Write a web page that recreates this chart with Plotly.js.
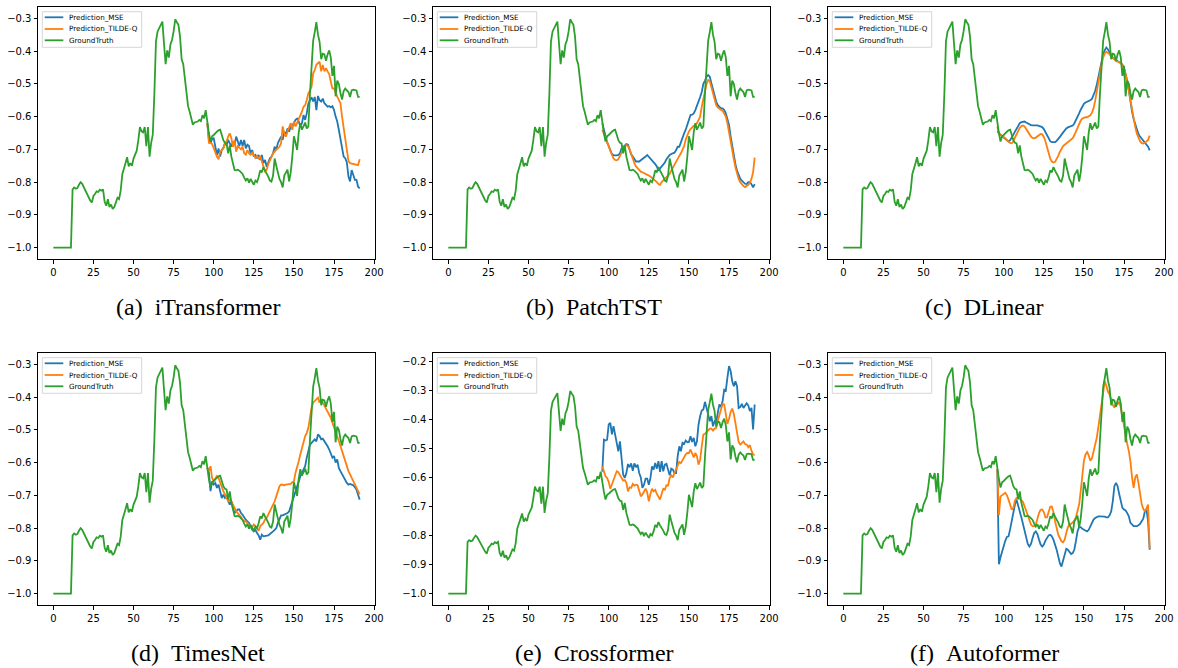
<!DOCTYPE html>
<html>
<head>
<meta charset="utf-8">
<script src="https://cdn.plot.ly/plotly-3.0.1.min.js"></script>
<style>
  html, body { margin: 0; padding: 0; background: #fff; }
  #chart { width: 1178px; height: 668px; }
</style>
</head>
<body>
<div id="chart"></div>
<script>
// Time-step indices: 96-step input window followed by a 96-step forecast horizon
const steps = Array.from({length: 192}, (_, i) => i);
const horizon = steps.slice(96);

const seriesNames = ['Prediction_MSE', 'Prediction_TILDE-Q', 'GroundTruth'];
const xTickVals = [0, 25, 50, 75, 100, 125, 150, 175, 200];

const groundTruth = [
  -1, -1, -1, -1, -1, -1, -1, -1, -1, -1,
  -1, -1, -0.822, -0.816, -0.82, -0.818, -0.808, -0.8, -0.805, -0.815,
  -0.83, -0.84, -0.85, -0.856, -0.862, -0.842, -0.836, -0.828, -0.83, -0.823,
  -0.826, -0.822, -0.86, -0.872, -0.852, -0.876, -0.868, -0.882, -0.876, -0.858,
  -0.848, -0.852, -0.826, -0.776, -0.755, -0.742, -0.724, -0.752, -0.742, -0.75,
  -0.728, -0.718, -0.704, -0.672, -0.632, -0.645, -0.648, -0.632, -0.69, -0.632,
  -0.722, -0.68, -0.655, -0.53, -0.37, -0.34, -0.328, -0.32, -0.31, -0.376,
  -0.44, -0.398, -0.42, -0.38, -0.366, -0.34, -0.303, -0.312, -0.32, -0.356,
  -0.425, -0.44, -0.488, -0.52, -0.568, -0.585, -0.604, -0.625, -0.618, -0.616,
  -0.615, -0.61, -0.614, -0.596, -0.605, -0.58, -0.62, -0.65, -0.676, -0.66,
  -0.656, -0.65, -0.646, -0.642, -0.64, -0.655, -0.672, -0.68, -0.682, -0.712,
  -0.688, -0.722, -0.745, -0.763, -0.764, -0.762, -0.765, -0.77, -0.775, -0.786,
  -0.795, -0.788, -0.802, -0.79, -0.8, -0.808, -0.795, -0.8, -0.785, -0.764,
  -0.77, -0.754, -0.765, -0.773, -0.783, -0.795, -0.798, -0.78, -0.728, -0.75,
  -0.772, -0.79, -0.8, -0.816, -0.78, -0.768, -0.762, -0.798, -0.77, -0.722,
  -0.66, -0.68, -0.702, -0.648, -0.62, -0.64, -0.63, -0.618, -0.636, -0.63,
  -0.53, -0.448, -0.368, -0.342, -0.312, -0.35, -0.372, -0.425, -0.408, -0.41,
  -0.43, -0.41, -0.398, -0.42, -0.476, -0.445, -0.538, -0.49, -0.5, -0.528,
  -0.548, -0.522, -0.514, -0.52, -0.525, -0.54, -0.52, -0.518, -0.518, -0.52,
  -0.54, -0.54
];

// Forecasts over steps 96..191
const itransformerMse = [
  -0.62, -0.67, -0.682, -0.668, -0.666, -0.692, -0.717, -0.697, -0.722, -0.702,
  -0.695, -0.681, -0.687, -0.671, -0.681, -0.692, -0.676, -0.686, -0.661, -0.676,
  -0.69, -0.671, -0.69, -0.671, -0.697, -0.686, -0.69, -0.712, -0.702, -0.722,
  -0.717, -0.727, -0.717, -0.732, -0.717, -0.742, -0.732, -0.753, -0.742, -0.727,
  -0.722, -0.712, -0.692, -0.702, -0.681, -0.671, -0.661, -0.671, -0.646, -0.656,
  -0.636, -0.646, -0.63, -0.626, -0.62, -0.61, -0.606, -0.615, -0.63, -0.62,
  -0.595, -0.61, -0.59, -0.56, -0.549, -0.541, -0.554, -0.54, -0.58, -0.537,
  -0.55, -0.554, -0.545, -0.559, -0.564, -0.57, -0.568, -0.572, -0.568, -0.58,
  -0.6, -0.615, -0.64, -0.67, -0.705, -0.722, -0.727, -0.74, -0.783, -0.798,
  -0.763, -0.778, -0.793, -0.793, -0.814, -0.819
];
const itransformerTildeQ = [
  -0.62, -0.68, -0.68, -0.684, -0.696, -0.71, -0.722, -0.73, -0.708, -0.702,
  -0.698, -0.681, -0.676, -0.661, -0.651, -0.666, -0.692, -0.672, -0.707, -0.69,
  -0.695, -0.7, -0.692, -0.712, -0.716, -0.702, -0.712, -0.716, -0.71, -0.72,
  -0.726, -0.72, -0.73, -0.72, -0.74, -0.752, -0.767, -0.762, -0.745, -0.732,
  -0.722, -0.712, -0.707, -0.7, -0.697, -0.692, -0.681, -0.63, -0.651, -0.661,
  -0.646, -0.63, -0.62, -0.64, -0.615, -0.63, -0.62, -0.605, -0.6, -0.585,
  -0.57, -0.565, -0.549, -0.529, -0.52, -0.509, -0.468, -0.458, -0.442, -0.437,
  -0.432, -0.462, -0.442, -0.462, -0.452, -0.462, -0.47, -0.493, -0.514, -0.514,
  -0.53, -0.539, -0.549, -0.559, -0.6, -0.635, -0.671, -0.705, -0.735, -0.742,
  -0.743, -0.743, -0.745, -0.745, -0.748, -0.73
];

const patchtstMse = [
  -0.62, -0.641, -0.665, -0.678, -0.69, -0.705, -0.714, -0.718, -0.719, -0.718,
  -0.717, -0.712, -0.697, -0.692, -0.687, -0.684, -0.686, -0.7, -0.715, -0.722,
  -0.73, -0.737, -0.737, -0.737, -0.733, -0.73, -0.727, -0.722, -0.717, -0.722,
  -0.73, -0.735, -0.74, -0.745, -0.752, -0.765, -0.758, -0.752, -0.745, -0.74,
  -0.73, -0.722, -0.717, -0.714, -0.712, -0.71, -0.702, -0.692, -0.692, -0.676,
  -0.664, -0.651, -0.64, -0.625, -0.61, -0.595, -0.594, -0.59, -0.58, -0.568,
  -0.553, -0.54, -0.525, -0.5, -0.49, -0.478, -0.473, -0.478, -0.498, -0.519,
  -0.539, -0.554, -0.565, -0.57, -0.575, -0.575, -0.58, -0.59, -0.605, -0.625,
  -0.66, -0.69, -0.72, -0.745, -0.765, -0.778, -0.79, -0.795, -0.8, -0.805,
  -0.806, -0.8, -0.8, -0.806, -0.816, -0.806
];
const patchtstTildeQ = [
  -0.64, -0.652, -0.66, -0.672, -0.69, -0.705, -0.718, -0.728, -0.732, -0.733,
  -0.73, -0.722, -0.71, -0.698, -0.69, -0.687, -0.69, -0.7, -0.715, -0.73,
  -0.742, -0.752, -0.758, -0.762, -0.768, -0.77, -0.772, -0.774, -0.777, -0.78,
  -0.783, -0.787, -0.79, -0.795, -0.8, -0.806, -0.808, -0.8, -0.795, -0.79,
  -0.785, -0.78, -0.775, -0.765, -0.755, -0.748, -0.74, -0.73, -0.72, -0.712,
  -0.7, -0.69, -0.67, -0.655, -0.645, -0.638, -0.632, -0.628, -0.626, -0.62,
  -0.61, -0.6, -0.57, -0.545, -0.52, -0.5, -0.488, -0.492, -0.51, -0.53,
  -0.55, -0.565, -0.572, -0.577, -0.58, -0.582, -0.59, -0.6, -0.62, -0.65,
  -0.68, -0.705, -0.73, -0.755, -0.775, -0.79, -0.8, -0.808, -0.812, -0.815,
  -0.812, -0.808, -0.802, -0.79, -0.77, -0.725
];

const dlinearMse = [
  -0.645, -0.651, -0.655, -0.66, -0.664, -0.668, -0.673, -0.676, -0.672, -0.665,
  -0.655, -0.646, -0.636, -0.626, -0.62, -0.617, -0.615, -0.615, -0.618, -0.621,
  -0.624, -0.626, -0.627, -0.628, -0.627, -0.627, -0.628, -0.629, -0.632, -0.638,
  -0.648, -0.658, -0.668, -0.675, -0.678, -0.679, -0.678, -0.674, -0.669, -0.662,
  -0.655, -0.648, -0.641, -0.636, -0.633, -0.631, -0.63, -0.627, -0.621, -0.612,
  -0.602, -0.59, -0.579, -0.568, -0.561, -0.557, -0.555, -0.553, -0.55, -0.546,
  -0.536, -0.522, -0.503, -0.48, -0.455, -0.428, -0.41, -0.397, -0.389, -0.395,
  -0.405, -0.415, -0.42, -0.424, -0.428, -0.431, -0.434, -0.436, -0.442, -0.452,
  -0.468, -0.49, -0.52, -0.555, -0.585, -0.607, -0.625, -0.642, -0.653, -0.661,
  -0.667, -0.672, -0.677, -0.684, -0.692, -0.703
];
const dlinearTildeQ = [
  -0.63, -0.652, -0.655, -0.658, -0.661, -0.666, -0.672, -0.677, -0.68, -0.681,
  -0.676, -0.664, -0.652, -0.641, -0.634, -0.629, -0.627, -0.63, -0.638, -0.646,
  -0.654, -0.661, -0.665, -0.666, -0.664, -0.66, -0.655, -0.653, -0.654, -0.662,
  -0.675, -0.695, -0.714, -0.728, -0.737, -0.74, -0.738, -0.73, -0.72, -0.708,
  -0.697, -0.69, -0.686, -0.682, -0.677, -0.674, -0.671, -0.666, -0.657, -0.645,
  -0.632, -0.62, -0.612, -0.606, -0.603, -0.602, -0.602, -0.6, -0.596, -0.588,
  -0.575, -0.552, -0.522, -0.49, -0.46, -0.44, -0.42, -0.407, -0.402, -0.405,
  -0.41, -0.417, -0.422, -0.426, -0.43, -0.432, -0.434, -0.437, -0.443, -0.452,
  -0.47, -0.493, -0.52, -0.55, -0.58, -0.608, -0.632, -0.652, -0.665, -0.675,
  -0.681, -0.682, -0.68, -0.676, -0.671, -0.658
];

const timesnetMse = [
  -0.616, -0.631, -0.687, -0.657, -0.667, -0.662, -0.677, -0.667, -0.687, -0.708,
  -0.698, -0.708, -0.703, -0.713, -0.728, -0.718, -0.738, -0.754, -0.749, -0.743,
  -0.743, -0.754, -0.759, -0.769, -0.774, -0.779, -0.784, -0.794, -0.805, -0.81,
  -0.805, -0.815, -0.822, -0.835, -0.82, -0.825, -0.824, -0.824, -0.822, -0.818,
  -0.815, -0.81, -0.805, -0.8, -0.784, -0.769, -0.761, -0.761, -0.759, -0.757,
  -0.754, -0.749, -0.733, -0.718, -0.703, -0.687, -0.667, -0.652, -0.642, -0.631,
  -0.621, -0.611, -0.585, -0.56, -0.545, -0.54, -0.535, -0.529, -0.535, -0.514,
  -0.519, -0.529, -0.527, -0.534, -0.54, -0.55, -0.56, -0.57, -0.585, -0.58,
  -0.6, -0.59, -0.616, -0.626, -0.636, -0.646, -0.657, -0.662, -0.667, -0.665,
  -0.667, -0.669, -0.675, -0.682, -0.698, -0.713
];
const timesnetTildeQ = [
  -0.616, -0.626, -0.611, -0.647, -0.657, -0.647, -0.641, -0.647, -0.662, -0.677,
  -0.687, -0.697, -0.708, -0.718, -0.713, -0.718, -0.728, -0.74, -0.749, -0.754,
  -0.759, -0.765, -0.774, -0.779, -0.779, -0.784, -0.789, -0.797, -0.797, -0.789,
  -0.794, -0.8, -0.808, -0.794, -0.789, -0.784, -0.774, -0.769, -0.759, -0.749,
  -0.738, -0.728, -0.718, -0.703, -0.687, -0.672, -0.667, -0.669, -0.669, -0.667,
  -0.667, -0.665, -0.665, -0.66, -0.657, -0.631, -0.616, -0.596, -0.575, -0.555,
  -0.535, -0.519, -0.509, -0.494, -0.463, -0.432, -0.417, -0.412, -0.407, -0.402,
  -0.417, -0.407, -0.417, -0.427, -0.432, -0.442, -0.453, -0.463, -0.478, -0.494,
  -0.504, -0.519, -0.534, -0.549, -0.565, -0.585, -0.6, -0.616, -0.626, -0.636,
  -0.646, -0.657, -0.667, -0.677, -0.687, -0.697
];

const crossformerMse = [
  -0.58, -0.47, -0.473, -0.47, -0.418, -0.412, -0.452, -0.424, -0.453, -0.487,
  -0.51, -0.476, -0.539, -0.59, -0.602, -0.585, -0.554, -0.565, -0.552, -0.577,
  -0.552, -0.565, -0.556, -0.585, -0.6, -0.636, -0.625, -0.604, -0.604, -0.625,
  -0.602, -0.562, -0.573, -0.55, -0.57, -0.544, -0.581, -0.544, -0.579, -0.556,
  -0.553, -0.579, -0.593, -0.57, -0.573, -0.585, -0.585, -0.527, -0.493, -0.51,
  -0.481, -0.485, -0.473, -0.479, -0.478, -0.458, -0.478, -0.464, -0.493, -0.476,
  -0.418, -0.389, -0.37, -0.366, -0.34, -0.361, -0.384, -0.407, -0.389, -0.424,
  -0.407, -0.412, -0.378, -0.349, -0.358, -0.338, -0.298, -0.301, -0.257, -0.217,
  -0.234, -0.269, -0.286, -0.269, -0.286, -0.361, -0.358, -0.347, -0.361, -0.352,
  -0.345, -0.352, -0.372, -0.361, -0.435, -0.349
];
const crossformerTildeQ = [
  -0.562, -0.579, -0.596, -0.602, -0.616, -0.639, -0.622, -0.608, -0.59, -0.579,
  -0.582, -0.593, -0.6, -0.611, -0.609, -0.619, -0.648, -0.634, -0.636, -0.622,
  -0.628, -0.625, -0.627, -0.645, -0.665, -0.659, -0.648, -0.639, -0.651, -0.682,
  -0.657, -0.639, -0.648, -0.643, -0.657, -0.668, -0.676, -0.657, -0.639, -0.642,
  -0.627, -0.628, -0.602, -0.593, -0.6, -0.585, -0.57, -0.562, -0.547, -0.551,
  -0.539, -0.531, -0.521, -0.516, -0.516, -0.504, -0.521, -0.531, -0.516, -0.527,
  -0.556, -0.539, -0.493, -0.453, -0.45, -0.443, -0.439, -0.432, -0.432, -0.439,
  -0.432, -0.43, -0.405, -0.386, -0.366, -0.347, -0.349, -0.384, -0.416, -0.398,
  -0.375, -0.363, -0.382, -0.413, -0.447, -0.478, -0.487, -0.482, -0.476, -0.485,
  -0.487, -0.496, -0.489, -0.508, -0.521, -0.524
];

const autoformerMse = [
  -0.62, -0.91, -0.889, -0.871, -0.861, -0.838, -0.827, -0.825, -0.803, -0.777,
  -0.754, -0.728, -0.713, -0.728, -0.749, -0.767, -0.787, -0.81, -0.832, -0.848,
  -0.856, -0.848, -0.83, -0.815, -0.81, -0.818, -0.835, -0.85, -0.856, -0.85,
  -0.838, -0.828, -0.822, -0.82, -0.825, -0.835, -0.848, -0.866, -0.886, -0.907,
  -0.917, -0.901, -0.879, -0.863, -0.866, -0.871, -0.879, -0.876, -0.866, -0.84,
  -0.81, -0.797, -0.797, -0.802, -0.805, -0.808, -0.81, -0.805, -0.794, -0.784,
  -0.774, -0.769, -0.766, -0.764, -0.764, -0.764, -0.765, -0.765, -0.767, -0.767,
  -0.761, -0.749, -0.718, -0.672, -0.662, -0.672, -0.696, -0.723, -0.738, -0.743,
  -0.746, -0.754, -0.764, -0.784, -0.791, -0.794, -0.794, -0.794, -0.791, -0.787,
  -0.779, -0.771, -0.749, -0.743, -0.779, -0.866
];
const autoformerTildeQ = [
  -0.62, -0.76, -0.703, -0.698, -0.696, -0.692, -0.7, -0.713, -0.726, -0.744,
  -0.738, -0.716, -0.708, -0.706, -0.71, -0.714, -0.72, -0.733, -0.746, -0.761,
  -0.774, -0.789, -0.794, -0.794, -0.789, -0.771, -0.754, -0.744, -0.743, -0.751,
  -0.767, -0.767, -0.749, -0.735, -0.734, -0.751, -0.779, -0.805, -0.82, -0.83,
  -0.84, -0.843, -0.835, -0.815, -0.797, -0.789, -0.787, -0.782, -0.777, -0.767,
  -0.751, -0.728, -0.687, -0.631, -0.594, -0.575, -0.568, -0.578, -0.594, -0.587,
  -0.567, -0.55, -0.524, -0.492, -0.458, -0.422, -0.382, -0.351, -0.366, -0.384,
  -0.392, -0.412, -0.424, -0.432, -0.419, -0.422, -0.414, -0.433, -0.463, -0.494,
  -0.514, -0.543, -0.565, -0.596, -0.645, -0.677, -0.645, -0.636, -0.662, -0.698,
  -0.726, -0.741, -0.749, -0.74, -0.728, -0.862
];

const panels = [
  {tag: '(a)', model: 'iTransformer', mse: itransformerMse, tilde: itransformerTildeQ, yRange: [-1.0345, -0.2655]},
  {tag: '(b)', model: 'PatchTST',     mse: patchtstMse,     tilde: patchtstTildeQ,     yRange: [-1.0345, -0.2655]},
  {tag: '(c)', model: 'DLinear',      mse: dlinearMse,      tilde: dlinearTildeQ,      yRange: [-1.0345, -0.2655]},
  {tag: '(d)', model: 'TimesNet',     mse: timesnetMse,     tilde: timesnetTildeQ,     yRange: [-1.0345, -0.2655]},
  {tag: '(e)', model: 'Crossformer',  mse: crossformerMse,  tilde: crossformerTildeQ,  yRange: [-1.039, -0.172]},
  {tag: '(f)', model: 'Autoformer',   mse: autoformerMse,   tilde: autoformerTildeQ,   yRange: [-1.0345, -0.2655]}
];

const colors = ['#1f77b4', '#ff7f0e', '#2ca02c'];

// Page geometry in pixels
const W = 1178, H = 668;
const px = x => x / W;
const py = y => 1 - y / H;
const colLeft = [38, 433, 828], colRight = [375, 770, 1165];
const rowTop = [7, 353], rowBottom = [259, 605];
const captionCenter = [197.5, 594, 984.5], captionMid = [307, 653];

const tickFont = {family: 'DejaVu Sans, sans-serif', size: 10, color: '#000'};
const axisCommon = {
  showline: true, mirror: true, linecolor: '#000', linewidth: 1,
  ticks: 'outside', ticklen: 3.5, tickwidth: 1, tickcolor: '#000',
  showgrid: false, zeroline: false, tickfont: tickFont, fixedrange: true
};

const traces = [];
const layout = {
  width: W, height: H,
  margin: {l: 0, r: 0, t: 0, b: 0},
  paper_bgcolor: '#fff', plot_bgcolor: '#fff',
  showlegend: false,
  shapes: [], annotations: []
};

panels.forEach((p, i) => {
  const col = i % 3, row = Math.floor(i / 3);
  const s = i === 0 ? '' : String(i + 1);
  const L = colLeft[col], R = colRight[col], T = rowTop[row], B = rowBottom[row];

  [[horizon, p.mse], [horizon, p.tilde], [steps, groundTruth]].forEach(([xs, ys], k) => {
    traces.push({
      x: xs, y: ys, xaxis: 'x' + s, yaxis: 'y' + s,
      type: 'scatter', mode: 'lines', name: seriesNames[k],
      line: {color: colors[k], width: 1.8}, hoverinfo: 'skip'
    });
  });

  layout['xaxis' + s] = Object.assign({}, axisCommon, {
    domain: [px(L), px(R)], anchor: 'y' + s, range: [-9.55, 200.55],
    tickmode: 'array', tickvals: xTickVals
  });
  layout['yaxis' + s] = Object.assign({}, axisCommon, {
    domain: [py(B), py(T)], anchor: 'x' + s, range: p.yRange,
    tickmode: 'linear', tick0: -1, dtick: 0.1, tickformat: '.1f'
  });

  // Legend box in the upper-left corner of each panel
  layout.shapes.push({
    type: 'rect', xref: 'paper', yref: 'paper',
    x0: px(L + 4.3), x1: px(L + 103.7), y0: py(T + 40.3), y1: py(T + 4.7),
    line: {color: '#d6d6d6', width: 1}, fillcolor: 'rgba(255,255,255,0.8)', layer: 'above'
  });
  [10.3, 22, 33.3].forEach((dy, k) => {
    layout.shapes.push({
      type: 'line', xref: 'paper', yref: 'paper',
      x0: px(L + 6.7), x1: px(L + 25.3), y0: py(T + dy), y1: py(T + dy),
      line: {color: colors[k], width: 1.8}, layer: 'above'
    });
    layout.annotations.push({
      xref: 'paper', yref: 'paper', x: px(L + 28.7), y: py(T + dy),
      xanchor: 'left', yanchor: 'middle', showarrow: false,
      text: seriesNames[k],
      font: {family: 'DejaVu Sans, sans-serif', size: 7.2, color: '#000'}
    });
  });

  // Sub-figure caption
  layout.annotations.push({
    xref: 'paper', yref: 'paper', x: px(captionCenter[col]), y: py(captionMid[row]),
    xanchor: 'center', yanchor: 'middle', showarrow: false,
    text: p.tag + '\u2002' + p.model,
    font: {family: 'Liberation Serif, Times New Roman, serif', size: 24, color: '#000'}
  });
});

Plotly.newPlot('chart', traces, layout, {staticPlot: true, displayModeBar: false});
</script>
</body>
</html>
